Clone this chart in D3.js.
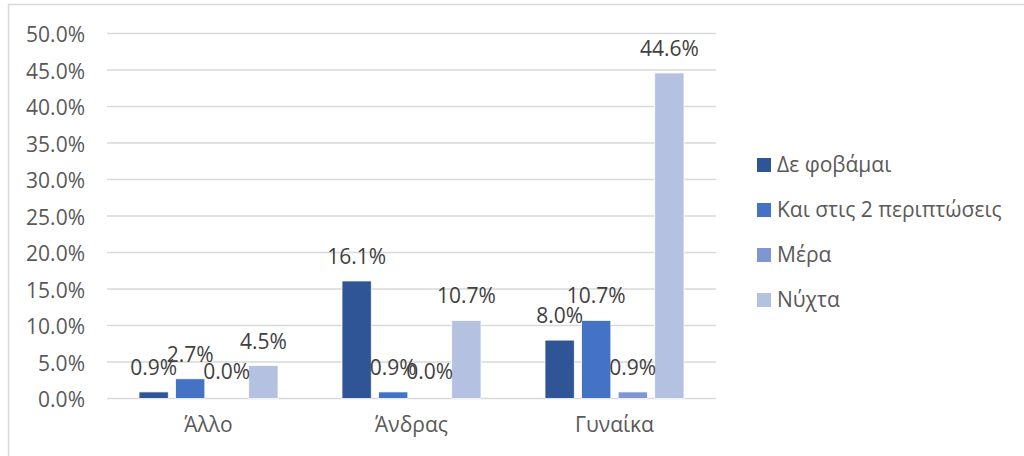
<!DOCTYPE html>
<html><head><meta charset="utf-8">
<script src="https://cdn.jsdelivr.net/npm/d3@7"></script>
<style>body{margin:0;background:#fff}svg{display:block}</style>
</head><body>
<svg id="c" width="1024" height="456"></svg>
<script>
const categories = ["Άλλο", "Άνδρας", "Γυναίκα"];
const seriesNames = ["Δε φοβάμαι", "Και στις 2 περιπτώσεις", "Μέρα", "Νύχτα"];
const deFovamai = [0.009, 0.161, 0.080];
const kaiStis2 = [0.027, 0.009, 0.107];
const mera = [0.000, 0.000, 0.009];
const nychta = [0.045, 0.107, 0.446];
const yTicks = [0, 0.05, 0.10, 0.15, 0.20, 0.25, 0.30, 0.35, 0.40, 0.45, 0.50];
const colors = ["#2F5597", "#4472C4", "#7F96D2", "#B4C1E0"];

const seriesValues = [deFovamai, kaiStis2, mera, nychta];
const font = "'Open Sans', sans-serif";
const fs = 21;
const svg = d3.select("#c");

// outer border
svg.append("path").attr("d", "M8.5,1030 V4.5 H1030").attr("fill", "none")
  .attr("stroke", "#d9d9d9").attr("stroke-width", 1.5);

const x0 = d3.scaleBand().domain(categories).range([107, 716]).paddingInner(0).paddingOuter(0);
const x1 = d3.scaleBand().domain(seriesNames).range([32, 203 - 32]).paddingInner(0.2).paddingOuter(0);
const y = d3.scaleLinear().domain([0, 0.5]).range([398.5, 33.5]);

// gridlines
svg.append("g").selectAll("line").data(yTicks).join("line")
  .attr("x1", 107).attr("x2", 716)
  .attr("y1", d => y(d)).attr("y2", d => y(d))
  .attr("stroke", "#d9d9d9").attr("stroke-width", 1.5);

// y axis labels
const fmt = d3.format(".1%");
const yAxis = d3.axisLeft(y).tickValues(yTicks).tickFormat(fmt).tickSize(0).tickPadding(22);
const ya = svg.append("g").attr("transform", "translate(107,1.5)").call(yAxis);
ya.select(".domain").remove();
ya.selectAll("text").attr("font-family", font).attr("font-size", fs).attr("fill", "#595959");

// x axis labels
const xAxis = d3.axisBottom(x0).tickSize(0).tickPadding(18);
const xa = svg.append("g").attr("transform", "translate(0,399)").call(xAxis);
xa.select(".domain").remove();
xa.selectAll("text").attr("font-family", font).attr("font-size", fs).attr("fill", "#595959");

// bars
const data = [];
categories.forEach((c, ci) => seriesNames.forEach((s, si) => data.push({c, s, si, v: seriesValues[si][ci]})));
const g = svg.append("g");
g.selectAll("rect").data(data).join("rect")
  .attr("x", d => x0(d.c) + x1(d.s))
  .attr("width", x1.bandwidth())
  .attr("y", d => y(d.v))
  .attr("height", d => y(0) - y(d.v))
  .attr("fill", d => colors[d.si])
  .attr("stroke", "#fff").attr("stroke-width", d => d.v > 0 ? 0.75 : 0);

g.selectAll("text").data(data).join("text")
  .attr("x", d => x0(d.c) + x1(d.s) + x1.bandwidth() / 2)
  .attr("y", d => y(d.v) - (d.v > 0 ? 17 : 20))
  .attr("text-anchor", "middle")
  .attr("font-family", font).attr("font-size", fs).attr("fill", "#404040")
  .text(d => fmt(d.v));

// legend
const lg = svg.append("g");
seriesNames.forEach((s, i) => {
  const cy = 165 + i * 45;
  lg.append("rect").attr("x", 757).attr("y", cy - 7).attr("width", 14).attr("height", 14).attr("fill", colors[i]);
  lg.append("text").attr("x", 777).attr("y", cy).attr("dy", "0.35em")
    .attr("font-family", font).attr("font-size", fs).attr("fill", "#595959").text(s);
});
</script>
</body></html>
